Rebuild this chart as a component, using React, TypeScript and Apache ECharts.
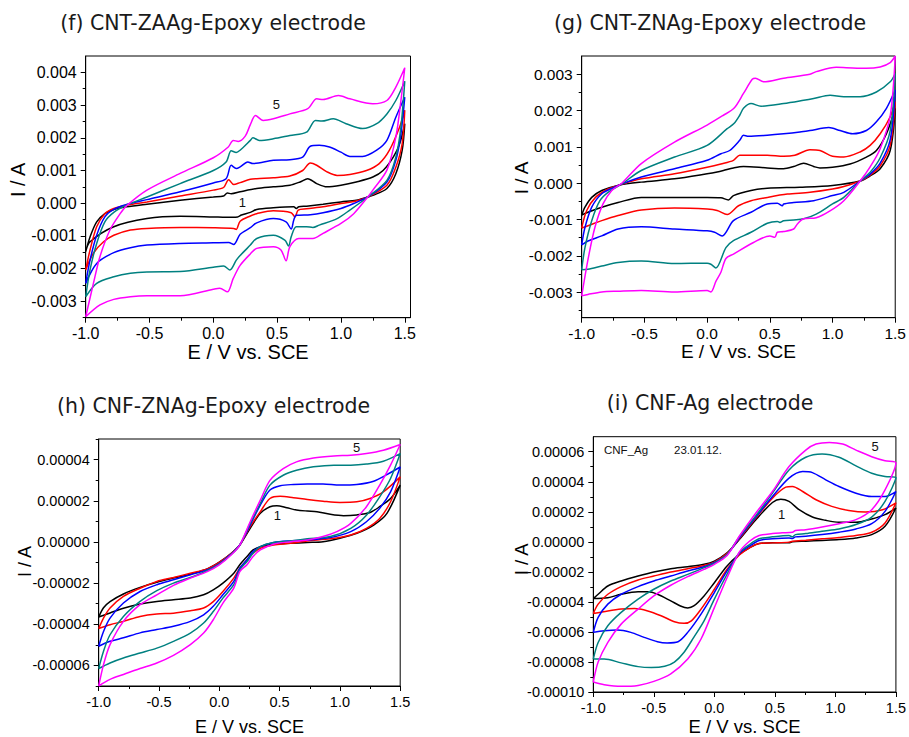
import { useEffect, useRef } from "react";
import * as echarts from "echarts";

// ---------- colours of cycles 1..5 ----------
const cycleColors = ["#000000", "#ff0000", "#0000ff", "#008080", "#ff00ff"];

// ---------- tick values ----------
const xMajor = [-1, -0.5, 0, 0.5, 1, 1.5];
const xMinor = [-0.75, -0.25, 0.25, 0.75, 1.25];
const fYMajor = [-0.003, -0.002, -0.001, 0, 0.001, 0.002, 0.003, 0.004];
const fYMinor = [-0.0035, -0.0025, -0.0015, -0.0005, 0.0005, 0.0015, 0.0025, 0.0035];
const gYMajor = [-0.003, -0.002, -0.001, 0, 0.001, 0.002, 0.003];
const gYMinor = [-0.0035, -0.0025, -0.0015, -0.0005, 0.0005, 0.0015, 0.0025];
const hYMajor = [-0.00006, -0.00004, -0.00002, 0, 0.00002, 0.00004];
const hYMinor = [-0.00007, -0.00005, -0.00003, -0.00001, 0.00001, 0.00003, 0.00005];
const iYMajor = [-0.0001, -0.00008, -0.00006, -0.00004, -0.00002, 0, 0.00002, 0.00004, 0.00006];
const iYMinor = [-0.00009, -0.00007, -0.00005, -0.00003, -0.00001, 0.00001, 0.00003, 0.00005];

// ---------- (f) CNT-ZAAg-Epoxy, [E / V, I / mA] ----------
const fCycle1 = [[-1,-1.48],[-0.966,-1.03],[-0.914,-0.57],[-0.85,-0.32],[-0.78,-0.19],[-0.68,-0.11],[-0.52,-0.03],[-0.26,0.09],[0,0.19],[0.08,0.22],[0.11,0.31],[0.14,0.29],[0.21,0.35],[0.34,0.45],[0.47,0.5],[0.6,0.55],[0.68,0.65],[0.74,0.75],[0.81,0.6],[0.89,0.5],[1.0,0.55],[1.12,0.65],[1.25,0.8],[1.33,1.0],[1.41,1.41],[1.46,1.82],[1.5,2.43],
  [1.48,1.62],[1.43,0.9],[1.36,0.45],[1.25,0.24],[1.21,0.19],[1.12,0.09],[1.0,0.04],[0.86,-0.03],[0.73,-0.09],[0.67,-0.11],[0.65,-0.16],[0.63,-0.11],[0.47,-0.14],[0.34,-0.19],[0.29,-0.28],[0.22,-0.36],[0.19,-0.42],[0.1,-0.43],[0,-0.42],[-0.26,-0.4],[-0.52,-0.47],[-0.78,-0.72],[-0.966,-1.18],[-1,-1.48]];
const fCycle2 = [[-1,-2.04],[-0.966,-1.43],[-0.914,-0.72],[-0.85,-0.32],[-0.78,-0.16],[-0.68,-0.06],[-0.52,0.04],[-0.26,0.22],[0,0.4],[0.08,0.48],[0.12,0.72],[0.16,0.57],[0.21,0.63],[0.29,0.73],[0.34,0.75],[0.47,0.78],[0.6,0.83],[0.7,1.0],[0.76,1.23],[0.81,1.16],[0.89,0.96],[0.97,0.85],[1.07,0.88],[1.2,1.0],[1.3,1.21],[1.38,1.62],[1.46,2.33],[1.5,2.84],
  [1.48,1.82],[1.43,1.1],[1.36,0.55],[1.21,0.19],[1.12,0.07],[1.0,-0.01],[0.86,-0.11],[0.73,-0.17],[0.665,-0.21],[0.64,-0.42],[0.61,-0.29],[0.47,-0.23],[0.34,-0.32],[0.29,-0.39],[0.21,-0.55],[0.18,-0.8],[0.16,-0.77],[0,-0.75],[-0.26,-0.74],[-0.52,-0.77],[-0.65,-0.82],[-0.78,-0.98],[-0.86,-1.18],[-0.94,-1.53],[-1,-2.04]];
const fCycle3 = [[-1,-2.45],[-0.966,-1.74],[-0.914,-0.98],[-0.85,-0.42],[-0.78,-0.19],[-0.68,-0.04],[-0.52,0.11],[-0.26,0.35],[0,0.62],[0.1,0.75],[0.14,1.16],[0.18,1.06],[0.21,1.11],[0.27,1.26],[0.31,1.21],[0.47,1.31],[0.6,1.33],[0.7,1.41],[0.76,1.74],[0.83,1.77],[0.91,1.72],[1.0,1.56],[1.07,1.43],[1.17,1.43],[1.28,1.62],[1.36,1.92],[1.43,2.63],[1.5,3.24],
  [1.47,2.12],[1.43,1.31],[1.36,0.65],[1.21,0.19],[1.1,-0.01],[1.0,-0.16],[0.86,-0.29],[0.76,-0.35],[0.65,-0.37],[0.63,-0.52],[0.61,-0.79],[0.57,-0.57],[0.47,-0.47],[0.34,-0.6],[0.29,-0.75],[0.21,-0.95],[0.16,-1.26],[0.12,-1.2],[0,-1.21],[-0.26,-1.23],[-0.52,-1.28],[-0.65,-1.36],[-0.78,-1.51],[-0.914,-1.84],[-1,-2.45]];
const fCycle4 = [[-1,-2.86],[-0.966,-2.04],[-0.914,-1.23],[-0.85,-0.57],[-0.78,-0.28],[-0.68,-0.06],[-0.52,0.19],[-0.26,0.6],[0,1.0],[0.1,1.26],[0.14,1.6],[0.18,1.55],[0.21,1.62],[0.29,1.92],[0.31,2.0],[0.36,1.92],[0.47,1.97],[0.6,2.07],[0.73,2.17],[0.8,2.53],[0.85,2.51],[0.94,2.58],[1.04,2.43],[1.17,2.28],[1.28,2.43],[1.36,2.73],[1.43,3.14],[1.5,3.73],
  [1.47,2.33],[1.43,1.41],[1.36,0.7],[1.21,0.19],[1.07,-0.21],[0.97,-0.47],[0.83,-0.67],[0.78,-0.74],[0.73,-0.72],[0.65,-0.72],[0.61,-1.03],[0.59,-1.31],[0.56,-1.13],[0.47,-0.98],[0.34,-1.08],[0.29,-1.28],[0.21,-1.6],[0.18,-1.74],[0.13,-2.04],[0.08,-1.92],[0,-1.96],[-0.26,-2.09],[-0.52,-2.1],[-0.65,-2.14],[-0.78,-2.25],[-0.914,-2.45],[-1,-2.86]];
const fCycle5 = [[-1,-3.47],[-0.94,-2.46],[-0.888,-1.63],[-0.81,-0.82],[-0.73,-0.32],[-0.68,-0.08],[-0.52,0.4],[-0.26,0.91],[0,1.39],[0.117,1.72],[0.156,1.92],[0.195,1.89],[0.25,2.05],[0.29,2.4],[0.33,2.68],[0.39,2.53],[0.47,2.58],[0.6,2.73],[0.74,2.89],[0.81,3.19],[0.86,3.17],[0.98,3.29],[1.07,3.19],[1.25,3.04],[1.36,3.14],[1.43,3.55],[1.5,4.14],
  [1.47,3.14],[1.43,2.02],[1.36,1.01],[1.25,0.4],[1.21,0.19],[1.1,-0.32],[1.0,-0.62],[0.86,-0.92],[0.78,-1.08],[0.67,-1.08],[0.6,-1.33],[0.57,-1.76],[0.53,-1.43],[0.47,-1.33],[0.34,-1.38],[0.29,-1.55],[0.21,-1.9],[0.156,-2.3],[0.11,-2.71],[0.05,-2.6],[0,-2.63],[-0.26,-2.83],[-0.52,-2.83],[-0.65,-2.86],[-0.78,-2.94],[-0.888,-3.11],[-1,-3.47]];

// ---------- (g) CNT-ZNAg-Epoxy, [E / V, I / mA] ----------
const gCycle1 = [[-1,-0.88],[-0.974,-0.66],[-0.92,-0.39],[-0.84,-0.2],[-0.71,-0.06],[-0.525,0.03],[-0.26,0.12],[0,0.26],[0.08,0.31],[0.13,0.35],[0.21,0.42],[0.29,0.46],[0.48,0.42],[0.61,0.4],[0.69,0.46],[0.77,0.55],[0.85,0.46],[0.9,0.42],[1.0,0.44],[1.14,0.53],[1.27,0.72],[1.35,0.9],[1.43,1.36],[1.5,2.06],
  [1.46,0.9],[1.38,0.4],[1.3,0.2],[1.22,0.06],[1.0,-0.06],[0.74,-0.11],[0.48,-0.14],[0.35,-0.2],[0.21,-0.34],[0.17,-0.46],[0.11,-0.4],[0,-0.39],[-0.26,-0.39],[-0.525,-0.39],[-0.71,-0.53],[-0.84,-0.66],[-0.95,-0.8],[-1,-0.88]];
const gCycle2 = [[-1,-1.23],[-0.96,-0.75],[-0.89,-0.39],[-0.79,-0.16],[-0.71,-0.06],[-0.525,0.12],[-0.26,0.26],[0,0.44],[0.11,0.53],[0.21,0.63],[0.26,0.77],[0.29,0.77],[0.48,0.77],[0.61,0.74],[0.7,0.77],[0.82,0.92],[0.9,0.9],[1.0,0.74],[1.09,0.72],[1.22,0.86],[1.3,1.04],[1.38,1.36],[1.46,1.83],[1.5,2.24],
  [1.46,1.05],[1.38,0.48],[1.3,0.22],[1.22,0.06],[1.09,-0.09],[1.0,-0.16],[0.82,-0.25],[0.64,-0.3],[0.48,-0.39],[0.35,-0.48],[0.25,-0.62],[0.16,-0.86],[0.08,-0.75],[0,-0.71],[-0.26,-0.68],[-0.525,-0.74],[-0.71,-0.89],[-0.84,-1.03],[-0.95,-1.17],[-1,-1.23]];
const gCycle3 = [[-1,-1.7],[-0.974,-1.22],[-0.92,-0.66],[-0.84,-0.29],[-0.74,-0.11],[-0.68,-0.02],[-0.525,0.17],[-0.26,0.4],[0,0.63],[0.11,0.81],[0.18,0.9],[0.26,1.18],[0.29,1.32],[0.33,1.29],[0.48,1.32],[0.61,1.36],[0.74,1.41],[0.82,1.45],[0.97,1.53],[1.06,1.45],[1.16,1.36],[1.27,1.45],[1.35,1.69],[1.43,2.06],[1.5,2.57],
  [1.46,1.2],[1.38,0.55],[1.3,0.25],[1.22,0.06],[1.09,-0.25],[1.0,-0.34],[0.85,-0.48],[0.69,-0.53],[0.61,-0.57],[0.6,-0.62],[0.56,-0.55],[0.48,-0.57],[0.35,-0.8],[0.21,-1.03],[0.12,-1.45],[0.06,-1.35],[0,-1.31],[-0.26,-1.26],[-0.525,-1.2],[-0.71,-1.26],[-0.84,-1.45],[-0.95,-1.59],[-1,-1.7]];
const gCycle4 = [[-1,-2.38],[-0.974,-1.77],[-0.92,-1.03],[-0.855,-0.48],[-0.79,-0.25],[-0.68,-0.02],[-0.525,0.35],[-0.26,0.72],[0,1.04],[0.16,1.5],[0.214,1.64],[0.26,1.87],[0.29,2.06],[0.35,2.19],[0.43,2.12],[0.61,2.19],[0.77,2.28],[0.85,2.33],[0.98,2.42],[1.09,2.38],[1.22,2.38],[1.35,2.51],[1.46,2.79],[1.5,3.02],
  [1.46,1.45],[1.38,0.7],[1.3,0.3],[1.22,0.06],[1.09,-0.39],[1.0,-0.57],[0.87,-0.85],[0.77,-0.98],[0.69,-1.01],[0.61,-1.03],[0.58,-1.08],[0.56,-1.05],[0.48,-1.1],[0.35,-1.35],[0.21,-1.58],[0.15,-1.77],[0.07,-2.33],[0.03,-2.23],[0,-2.2],[-0.26,-2.21],[-0.525,-2.14],[-0.71,-2.18],[-0.84,-2.28],[-0.95,-2.37],[-1,-2.38]];
const gCycle5 = [[-1,-3.1],[-0.947,-2.05],[-0.895,-1.22],[-0.83,-0.57],[-0.76,-0.2],[-0.68,0],[-0.525,0.54],[-0.26,1.13],[0,1.6],[0.13,1.87],[0.214,2.06],[0.29,2.47],[0.36,2.86],[0.385,2.89],[0.45,2.79],[0.61,2.89],[0.82,3.0],[0.87,3.07],[1.03,3.19],[1.11,3.18],[1.27,3.16],[1.38,3.2],[1.46,3.32],[1.5,3.5],
  [1.46,1.85],[1.38,0.95],[1.3,0.45],[1.22,0.06],[1.09,-0.48],[0.98,-0.76],[0.87,-0.95],[0.77,-0.98],[0.72,-1.12],[0.69,-1.26],[0.61,-1.33],[0.56,-1.35],[0.54,-1.49],[0.5,-1.45],[0.37,-1.63],[0.21,-1.95],[0.15,-2.07],[0.11,-2.45],[0.07,-2.7],[0.03,-2.99],[0,-2.95],[-0.26,-2.99],[-0.525,-2.95],[-0.71,-2.97],[-0.84,-2.99],[-0.95,-3.06],[-1,-3.1]];

// ---------- (h) CNF-ZNAg-Epoxy, [E / V, I / µA] ----------
const hCycle1 = [[-1,-36.5],[-0.96,-32],[-0.906,-29],[-0.795,-25.3],[-0.657,-22.1],[-0.518,-19.6],[-0.38,-17.6],[-0.24,-15.7],[-0.1,-13.1],[0,-9.8],[0.1,-5.5],[0.17,-1.5],[0.256,6.6],[0.34,13.9],[0.42,17.1],[0.477,17.6],[0.56,16.6],[0.64,15.5],[0.73,15],[0.81,14.7],[0.92,13.4],[1.03,12.7],[1.14,13.1],[1.25,14.3],[1.33,17.1],[1.42,21.1],[1.5,27.6],
  [1.39,13.9],[1.28,8.2],[1.14,4.2],[1.0,1.8],[0.86,0.1],[0.73,-0.3],[0.59,-0.7],[0.45,-1.1],[0.34,-2.3],[0.28,-3.9],[0.23,-7.1],[0.17,-11.1],[0.12,-15.2],[0.03,-20],[-0.05,-23.3],[-0.13,-25.7],[-0.24,-27.3],[-0.38,-28.1],[-0.518,-28.9],[-0.657,-30.2],[-0.795,-32.2],[-0.906,-34.5],[-1,-36.5]];
const hCycle2 = [[-1,-42.1],[-0.96,-37],[-0.906,-32.1],[-0.795,-26.5],[-0.657,-22.5],[-0.518,-19.2],[-0.38,-17.3],[-0.24,-15.2],[-0.1,-13.1],[0,-10],[0.1,-5.6],[0.17,-1.5],[0.256,7.4],[0.34,14.7],[0.42,21.1],[0.505,22.2],[0.615,21.5],[0.73,20.6],[0.86,19.8],[1.0,19.2],[1.14,19.5],[1.25,21.1],[1.36,24.3],[1.5,31.6],
  [1.42,19.5],[1.33,11.4],[1.22,6.6],[1.09,3.4],[0.92,1.5],[0.73,0.5],[0.59,-0.7],[0.45,-1.5],[0.34,-3.1],[0.28,-5.5],[0.23,-8.7],[0.17,-12.8],[0.12,-17.6],[0.03,-24.1],[-0.05,-29],[-0.13,-32.1],[-0.24,-33.4],[-0.38,-34.6],[-0.518,-35],[-0.657,-36.2],[-0.795,-38.6],[-0.906,-40.2],[-1,-42.1]];
const hCycle3 = [[-1,-50.7],[-0.96,-43.5],[-0.906,-37],[-0.795,-29.7],[-0.657,-24.1],[-0.518,-20.8],[-0.38,-18.4],[-0.24,-16],[-0.1,-13.6],[0,-10.5],[0.1,-5.8],[0.17,-1.5],[0.256,8.2],[0.34,17.9],[0.42,25.2],[0.505,27.3],[0.615,27.9],[0.73,28.1],[0.86,28.1],[1.0,27.6],[1.14,27.9],[1.28,29.5],[1.39,32.7],[1.5,36.4],
  [1.42,24.3],[1.33,16.3],[1.22,9.8],[1.09,5],[0.92,2.1],[0.73,0.9],[0.59,0.5],[0.45,-0.3],[0.34,-2.3],[0.28,-4.7],[0.23,-8.7],[0.17,-12.8],[0.12,-19.2],[0.03,-25.7],[-0.05,-31.3],[-0.13,-35.4],[-0.24,-38.6],[-0.38,-41],[-0.518,-42.6],[-0.657,-44.2],[-0.795,-46.6],[-0.906,-48.3],[-1,-50.7]];
const hCycle4 = [[-1,-61.5],[-0.96,-53.1],[-0.906,-45.1],[-0.795,-36.2],[-0.657,-28.9],[-0.518,-23.7],[-0.38,-20],[-0.24,-17.3],[-0.1,-14],[0,-10.8],[0.1,-6],[0.17,-1.5],[0.256,9],[0.34,18.7],[0.42,27.6],[0.53,32.4],[0.64,34.8],[0.78,36.5],[0.95,37.3],[1.09,37.3],[1.22,37.8],[1.36,39.2],[1.5,42.9],
  [1.42,30.8],[1.33,21.9],[1.22,13],[1.09,6.6],[0.92,2.6],[0.73,1.5],[0.59,0.5],[0.45,-0.3],[0.34,-2.3],[0.28,-5.5],[0.23,-9.5],[0.17,-13.6],[0.12,-20.8],[0.03,-27.3],[-0.05,-33.8],[-0.13,-39.4],[-0.24,-44.3],[-0.38,-48.3],[-0.518,-51.6],[-0.657,-54],[-0.795,-56.4],[-0.906,-58.8],[-1,-61.5]];
const hCycle5 = [[-1,-70],[-0.96,-59.6],[-0.906,-49.9],[-0.795,-38.6],[-0.657,-30.5],[-0.518,-25.7],[-0.38,-21.1],[-0.24,-17.6],[-0.1,-14.4],[0,-11.1],[0.1,-6.2],[0.17,-1.5],[0.256,9.8],[0.34,20.3],[0.42,29.9],[0.53,35.6],[0.64,38.9],[0.78,40.8],[0.95,41.8],[1.09,42.1],[1.22,42.9],[1.36,44.5],[1.5,47.3],
  [1.42,37.3],[1.33,27.6],[1.22,17.1],[1.09,9],[0.975,5],[0.86,2.6],[0.73,0.9],[0.59,0.1],[0.45,-1.1],[0.34,-3.9],[0.28,-7.1],[0.23,-11.1],[0.17,-14.4],[0.12,-22.4],[0.03,-29.7],[-0.05,-37.8],[-0.13,-44.3],[-0.24,-49.9],[-0.38,-55.1],[-0.518,-58.8],[-0.657,-61.5],[-0.795,-64.4],[-0.906,-66.8],[-1,-70]];

// ---------- (i) CNF-Ag, [E / V, I / µA] ----------
const iCycle1 = [[-1,-37.8],[-0.96,-34.9],[-0.88,-29.4],[-0.77,-26.1],[-0.63,-22.8],[-0.5,-20.1],[-0.36,-17.9],[-0.22,-16.6],[-0.085,-15],[0,-12.8],[0.105,-7.3],[0.206,1.5],[0.343,14.7],[0.48,26.2],[0.549,28.4],[0.617,26.9],[0.7,21.4],[0.81,16.5],[0.92,14.3],[1.03,13],[1.17,13],[1.3,15.2],[1.41,18.1],[1.5,22.5],
  [1.41,10.3],[1.3,4.8],[1.17,2.6],[1.03,1.5],[0.89,0.9],[0.755,0.4],[0.645,0],[0.617,-0.7],[0.48,-0.7],[0.37,-1.1],[0.29,-4],[0.206,-8.4],[0.105,-16.1],[0,-27.2],[-0.085,-36],[-0.17,-42.7],[-0.22,-44],[-0.28,-42.7],[-0.36,-39.3],[-0.47,-34.9],[-0.55,-33.3],[-0.63,-33.3],[-0.77,-34.9],[-0.88,-37.2],[-1,-37.8]];
const iCycle2 = [[-1,-47.7],[-0.96,-41.5],[-0.88,-34.9],[-0.77,-29.8],[-0.63,-25.4],[-0.5,-22.8],[-0.36,-20.1],[-0.22,-17.9],[-0.085,-15.7],[0,-13.5],[0.105,-7.7],[0.206,2],[0.343,15.9],[0.48,29.1],[0.59,36.4],[0.645,36.9],[0.73,33.5],[0.84,28],[0.97,23.6],[1.11,20.9],[1.25,19.8],[1.39,21.4],[1.5,26],
  [1.41,12.6],[1.3,6.4],[1.17,4.2],[1.03,2.9],[0.89,2],[0.755,1.1],[0.645,0.4],[0.617,-0.2],[0.48,-0.7],[0.37,-1.1],[0.29,-4],[0.206,-8.8],[0.105,-18.3],[0,-31.6],[-0.11,-44.8],[-0.19,-52.6],[-0.25,-54.3],[-0.33,-53.2],[-0.44,-49.2],[-0.55,-46],[-0.66,-44.4],[-0.77,-44.8],[-0.88,-46],[-1,-47.7]];
const iCycle3 = [[-1,-60.3],[-0.96,-50.3],[-0.88,-41.5],[-0.77,-34.9],[-0.63,-29.8],[-0.5,-26.1],[-0.36,-22.8],[-0.22,-19.4],[-0.085,-16.6],[0,-13.9],[0.105,-8.4],[0.206,2.6],[0.343,16.5],[0.48,30.2],[0.617,42.4],[0.73,46.8],[0.81,46.1],[0.92,41.3],[1.03,36.8],[1.17,32.4],[1.3,30.2],[1.41,30.2],[1.5,33.5],
  [1.41,20.3],[1.3,12.1],[1.17,8.6],[1.03,6.4],[0.89,4.8],[0.755,3.7],[0.67,3.3],[0.645,2.2],[0.617,2.6],[0.48,2],[0.37,0.9],[0.29,-2.9],[0.206,-7.7],[0.105,-19.4],[0,-33.8],[-0.11,-48.1],[-0.22,-60.3],[-0.3,-66.5],[-0.39,-67.3],[-0.47,-66.5],[-0.58,-63.6],[-0.69,-60.3],[-0.8,-58.7],[-0.91,-59.2],[-1,-60.3]];
const iCycle4 = [[-1,-78],[-0.96,-67],[-0.88,-55.9],[-0.77,-47],[-0.63,-38.2],[-0.5,-31.6],[-0.36,-26.1],[-0.22,-21.7],[-0.085,-17.2],[0,-14.3],[0.105,-8.4],[0.206,3.3],[0.343,17.4],[0.48,32.4],[0.617,47.9],[0.755,56.3],[0.89,58.5],[1.03,56.3],[1.17,50.6],[1.3,45.7],[1.41,43.5],[1.5,42.8],
  [1.41,26.9],[1.3,16.5],[1.17,11.5],[1.03,8.6],[0.89,7.1],[0.755,5.5],[0.67,4.8],[0.645,3.3],[0.617,4.2],[0.48,3.3],[0.37,2],[0.29,-1.8],[0.206,-7.3],[0.105,-21.6],[0,-38.2],[-0.085,-52.6],[-0.17,-63.6],[-0.25,-73.5],[-0.33,-80.1],[-0.41,-82.9],[-0.52,-83.7],[-0.63,-83.1],[-0.77,-80.6],[-0.91,-78],[-1,-78]];
const iCycle5 = [[-1,-93.4],[-0.96,-80.1],[-0.88,-66.9],[-0.77,-54.8],[-0.63,-44.8],[-0.5,-36],[-0.36,-28.9],[-0.22,-23.2],[-0.085,-18.3],[0,-15],[0.105,-9.1],[0.206,3.7],[0.343,19.2],[0.48,33.5],[0.617,50.1],[0.755,61.1],[0.84,65.1],[0.95,66.2],[1.06,65.1],[1.17,61.1],[1.3,56.7],[1.41,54],[1.5,52.7],
  [1.41,34.6],[1.3,21.4],[1.17,14.8],[1.03,12.1],[0.89,9.9],[0.755,8.1],[0.67,7.5],[0.645,6.4],[0.56,6],[0.48,5.5],[0.37,4.2],[0.29,0.4],[0.206,-6.8],[0.105,-23.9],[0,-43.8],[-0.11,-64.7],[-0.22,-78],[-0.36,-87.9],[-0.5,-92.9],[-0.63,-95.6],[-0.77,-96.2],[-0.91,-95.1],[-1,-93.4]];

const titles = ["(f) CNT-ZAAg-Epoxy electrode", "(g) CNT-ZNAg-Epoxy electrode", "(h) CNF-ZNAg-Epoxy electrode", "(i) CNF-Ag electrode"];

const panels = [
  { title: titles[0], tx: 213, ty: 12, grid: { left: 85.7, top: 56, width: 324.8, height: 261.7 }, xMax: 1.545, yMin: -0.0035, yMax: 0.0045,
    yMajor: fYMajor, yMinor: fYMinor, digits: 3, unit: 1e-3, curves: [fCycle1, fCycle2, fCycle3, fCycle4, fCycle5],
    tickFont: 16, nameFont: 20, yGap: 57.5, yShift: 14, xGap: 24 },
  { title: titles[1], tx: 710, ty: 12, grid: { left: 581.7, top: 56, width: 315.6, height: 261.7 }, xMax: 1.5, yMin: -0.0037, yMax: 0.0035,
    yMajor: gYMajor, yMinor: gYMinor, digits: 3, unit: 1e-3, curves: [gCycle1, gCycle2, gCycle3, gCycle4, gCycle5],
    tickFont: 15.5, nameFont: 19, yGap: 50.5, yShift: 18, xGap: 24 },
  { title: titles[2], tx: 213.5, ty: 395, grid: { left: 98.7, top: 439, width: 301.5, height: 247.7 }, xMax: 1.5, yMin: -0.00007, yMax: 0.00005,
    yMajor: hYMajor, yMinor: hYMinor, digits: 5, unit: 1e-6, curves: [hCycle1, hCycle2, hCycle3, hCycle4, hCycle5],
    tickFont: 14.5, nameFont: 18, yGap: 64.5, yShift: 2, xGap: 32 },
  { title: titles[3], tx: 710, ty: 392, grid: { left: 593.3, top: 436.7, width: 304, height: 256.6 }, xMax: 1.5, yMin: -0.0001, yMax: 0.00007,
    yMajor: iYMajor, yMinor: iYMinor, digits: 5, unit: 1e-6, curves: [iCycle1, iCycle2, iCycle3, iCycle4, iCycle5],
    tickFont: 14.5, nameFont: 18.5, yGap: 62, yShift: 10, xGap: 25 },
];

const AXIS_FONT = "'Liberation Sans', Arial, sans-serif";

function buildOption() {
  const grid: any[] = [];
  const xAxis: any[] = [];
  const yAxis: any[] = [];
  const series: any[] = [];
  const title: any[] = [];
  panels.forEach((p, k) => {
    title.push({
      text: p.title, left: p.tx, top: p.ty, textAlign: "center", padding: 0,
      textStyle: { fontFamily: "'DejaVu Sans', Verdana, sans-serif", fontSize: 20.5, fontWeight: "normal", color: "#1a1a1a" },
    });
    grid.push({ ...p.grid, show: true, borderColor: "#000", borderWidth: 1, backgroundColor: "transparent", containLabel: false });
    xAxis.push({
      type: "value", gridIndex: k, min: -1, max: p.xMax, position: "bottom",
      name: "E / V vs. SCE", nameLocation: "middle", nameGap: p.xGap, nameMoveOverlap: false,
      nameTextStyle: { fontFamily: AXIS_FONT, fontSize: p.nameFont, color: "#000" },
      axisLine: { show: true, onZero: false, lineStyle: { color: "#000", width: 1 } },
      axisTick: { show: true, inside: false, length: 5, lineStyle: { color: "#000", width: 1 }, customValues: xMajor },
      axisLabel: { show: true, customValues: xMajor, margin: 8, color: "#000", fontFamily: AXIS_FONT, fontSize: p.tickFont, formatter: (v: number) => v.toFixed(1) },
      splitLine: { show: false },
    });
    xAxis.push({
      type: "value", gridIndex: k, min: -1, max: p.xMax, position: "bottom",
      axisLine: { show: false, onZero: false },
      axisTick: { show: true, inside: false, length: 3, lineStyle: { color: "#000", width: 1 }, customValues: xMinor },
      axisLabel: { show: false }, splitLine: { show: false },
    });
    yAxis.push({
      type: "value", gridIndex: k, min: p.yMin, max: p.yMax, position: "left",
      name: "I / A", nameLocation: "middle", nameGap: p.yGap, nameMoveOverlap: false,
      nameTextStyle: { fontFamily: AXIS_FONT, fontSize: p.nameFont, color: "#000", padding: [0, 0, 0, p.yShift] },
      axisLine: { show: true, onZero: false, lineStyle: { color: "#000", width: 1 } },
      axisTick: { show: true, inside: false, length: 5, lineStyle: { color: "#000", width: 1 }, customValues: p.yMajor },
      axisLabel: { show: true, customValues: p.yMajor, margin: 9, color: "#000", fontFamily: AXIS_FONT, fontSize: p.tickFont, formatter: (v: number) => v.toFixed(p.digits) },
      splitLine: { show: false },
    });
    yAxis.push({
      type: "value", gridIndex: k, min: p.yMin, max: p.yMax, position: "left",
      axisLine: { show: false, onZero: false },
      axisTick: { show: true, inside: false, length: 3, lineStyle: { color: "#000", width: 1 }, customValues: p.yMinor },
      axisLabel: { show: false }, splitLine: { show: false },
    });
    p.curves.forEach((c, j) => {
      series.push({
        type: "line", name: `${p.title} cycle ${j + 1}`,
        xAxisIndex: 2 * k, yAxisIndex: 2 * k,
        data: c.map(([e, i]) => [e, i * p.unit]),
        showSymbol: false, symbol: "none", smooth: 0.3,
        lineStyle: { color: cycleColors[j], width: 1.5 }, itemStyle: { color: cycleColors[j] },
        emphasis: { disabled: true }, silent: true, clip: true,
      });
    });
  });

  const note = (text: string, x: number, y: number, size: number, align = "center") => ({
    type: "text", x, y, silent: true, z: 100,
    style: { text, fill: "#111", font: `${size}px 'Liberation Sans', Arial, sans-serif`, align, verticalAlign: "middle" },
  });

  return {
    animation: false,
    backgroundColor: "#ffffff",
    title, grid, xAxis, yAxis, series,
    graphic: [
      note("5", 276.3, 104, 13),
      note("1", 242.3, 202.7, 13),
      note("5", 356.7, 447.3, 13),
      note("1", 277.3, 515, 13),
      note("CNF_Ag", 604, 450, 11.5, "left"),
      note("23.01.12.", 674, 450, 11.5, "left"),
      note("5", 875, 446, 13),
      note("1", 781.7, 514, 13),
    ],
  };
}

export default function App() {
  const ref = useRef<HTMLDivElement>(null);
  useEffect(() => {
    if (!ref.current) return;
    document.body.style.margin = "0";
    const chart = echarts.init(ref.current, undefined, { renderer: "svg" });
    chart.setOption(buildOption() as any);
    return () => chart.dispose();
  }, []);
  return <div ref={ref} style={{ position: "absolute", left: 0, top: 0, width: 909, height: 737, background: "#fff" }} />;
}
